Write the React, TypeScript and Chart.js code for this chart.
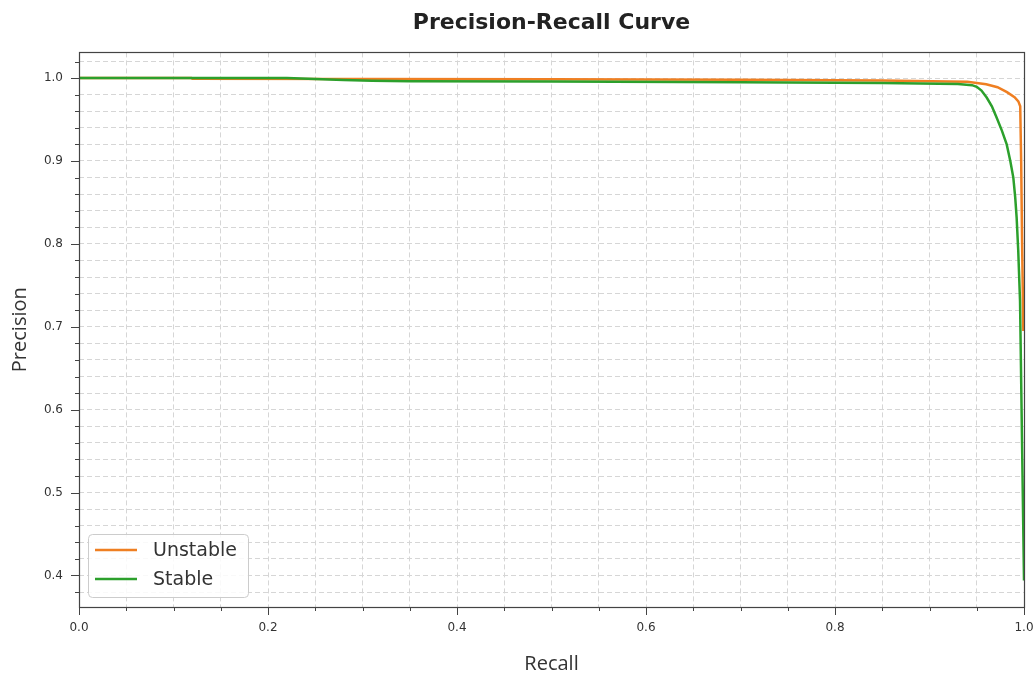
import { useEffect, useRef } from "react";
import { Chart, registerables } from "chart.js";

Chart.register(...registerables);

// ---- Data ----
const seriesLabels = ["Unstable", "Stable"];
const seriesColors = ["#ef7f22", "#2ca02c"];

const recallUnstable = [
  0, 0.119, 0.12, 0.3, 0.5, 0.7, 0.85, 0.92, 0.94, 0.96, 0.972, 0.982, 0.99,
  0.994, 0.996, 0.997, 0.998, 0.9993,
];
const precisionUnstable = [
  1.0, 1.0, 0.9993, 0.999, 0.9985, 0.998, 0.997, 0.996, 0.9955, 0.9925, 0.989,
  0.983, 0.977, 0.972, 0.966, 0.9, 0.8, 0.695,
];

const recallStable = [
  0, 0.22, 0.25, 0.28, 0.31, 0.35, 0.5, 0.7, 0.85, 0.93, 0.945, 0.95, 0.955,
  0.9605, 0.966, 0.971, 0.9765, 0.9817, 0.9855, 0.9887, 0.9907, 0.9922, 0.9939,
  0.9958, 0.998, 1.0,
];
const precisionStable = [
  1.0, 1.0, 0.9988, 0.9978, 0.9968, 0.9962, 0.9958, 0.995, 0.994, 0.993,
  0.9915, 0.9895, 0.985, 0.9766, 0.966, 0.9525, 0.937, 0.92, 0.9, 0.88, 0.856,
  0.832, 0.792, 0.731, 0.555, 0.394,
];

const xMajorTicks = [0, 0.2, 0.4, 0.6, 0.8, 1.0];
const yMajorTicks = [0.4, 0.5, 0.6, 0.7, 0.8, 0.9, 1.0];

const isMajor = (v: number, majors: number[]) =>
  majors.some((m) => Math.abs(m - v) < 1e-6);

const frameTicksPlugin = {
  id: "frameTicks",
  afterDatasetsDraw(chart: any) {
    const { ctx, chartArea: a, scales } = chart;
    const xs = scales.x;
    const ys = scales.y;
    ctx.save();
    ctx.strokeStyle = "#444";
    ctx.lineWidth = 1;
    ctx.beginPath();
    xs.ticks.forEach((t: any) => {
      const px = Math.round(xs.getPixelForValue(t.value)) + 0.5;
      const len = isMajor(t.value, xMajorTicks) ? 8 : 4;
      ctx.moveTo(px, a.bottom);
      ctx.lineTo(px, a.bottom + len);
    });
    ys.ticks.forEach((t: any) => {
      const py = Math.round(ys.getPixelForValue(t.value)) + 0.5;
      if (py < a.top || py > a.bottom) return;
      const len = isMajor(t.value, yMajorTicks) ? 8 : 4;
      ctx.moveTo(a.left, py);
      ctx.lineTo(a.left - len, py);
    });
    ctx.stroke();
    ctx.lineWidth = 1.2;
    ctx.strokeRect(
      Math.round(a.left) + 0.5,
      Math.round(a.top) + 0.5,
      Math.round(a.right - a.left),
      Math.round(a.bottom - a.top)
    );
    ctx.restore();
  },
};

const legendPlugin = {
  id: "boxLegend",
  afterDraw(chart: any) {
    const { ctx, chartArea: a } = chart;
    const w = 160;
    const h = 63;
    const x = Math.round(a.left) + 9;
    const y = Math.round(a.bottom) - 10 - h;
    ctx.save();
    ctx.beginPath();
    ctx.roundRect(x + 0.5, y + 0.5, w, h, 4);
    ctx.fillStyle = "rgba(255,255,255,0.85)";
    ctx.fill();
    ctx.strokeStyle = "#cccccc";
    ctx.lineWidth = 1;
    ctx.stroke();
    ctx.font = '19px "DejaVu Sans"';
    ctx.textBaseline = "middle";
    ctx.textAlign = "left";
    chart.data.datasets.forEach((ds: any, i: number) => {
      const cy = y + 16 + i * 29;
      ctx.strokeStyle = ds.borderColor;
      ctx.lineWidth = 2.5;
      ctx.beginPath();
      ctx.moveTo(x + 7, cy);
      ctx.lineTo(x + 49, cy);
      ctx.stroke();
      ctx.fillStyle = "#333";
      ctx.fillText(ds.label, x + 65, cy + 1);
    });
    ctx.restore();
  },
};

export default function App() {
  const canvasRef = useRef<HTMLCanvasElement | null>(null);

  useEffect(() => {
    if (!canvasRef.current) return;
    const toPoints = (xs: number[], ys: number[]) =>
      xs.map((x, i) => ({ x, y: ys[i] }));

    const chart = new Chart(canvasRef.current, {
      type: "line",
      data: {
        datasets: [
          {
            label: seriesLabels[0],
            data: toPoints(recallUnstable, precisionUnstable),
            borderColor: seriesColors[0],
            backgroundColor: seriesColors[0],
            borderWidth: 2.5,
            pointRadius: 0,
            tension: 0,
            fill: false,
            order: 1,
          },
          {
            label: seriesLabels[1],
            data: toPoints(recallStable, precisionStable),
            borderColor: seriesColors[1],
            backgroundColor: seriesColors[1],
            borderWidth: 2.5,
            pointRadius: 0,
            tension: 0,
            fill: false,
            order: 0,
          },
        ],
      },
      options: {
        responsive: false,
        animation: false,
        events: [],
        layout: { padding: { left: 0, right: 11, top: 0, bottom: 0 } },
        plugins: {
          legend: { display: false },
          tooltip: { enabled: false },
          title: {
            display: true,
            fullSize: false,
            text: "Precision-Recall Curve",
            color: "#222",
            font: { family: "DejaVu Sans", size: 22, weight: "bold" },
            padding: { top: 10, bottom: 16 },
          },
        },
        scales: {
          x: {
            type: "linear",
            position: "bottom",
            min: 0,
            max: 1,
            ticks: {
              stepSize: 0.05,
              autoSkip: false,
              maxRotation: 0,
              includeBounds: false,
              padding: 14,
              color: "#333",
              font: { family: "DejaVu Sans", size: 12 },
              callback: (v: any) =>
                isMajor(Number(v), xMajorTicks) ? Number(v).toFixed(1) : "",
            },
            grid: {
              color: "#d6d6d6",
              lineWidth: 1,
              drawTicks: false,
            },
            border: { display: false, dash: [5, 3] },
            title: {
              display: true,
              text: "Recall",
              color: "#333",
              font: { family: "Open Sans", size: 20 },
              padding: { top: 0, bottom: 4 },
            },
            afterFit: (s: any) => {
              s.height = 73;
              s.paddingLeft = 0;
              s.paddingRight = 0;
            },
          },
          y: {
            type: "linear",
            min: 0.362,
            max: 1.031,
            ticks: {
              stepSize: 0.02,
              autoSkip: false,
              includeBounds: false,
              padding: 16,
              color: "#333",
              font: { family: "DejaVu Sans", size: 12 },
              callback: (v: any) =>
                isMajor(Number(v), yMajorTicks) ? Number(v).toFixed(1) : "",
            },
            grid: {
              color: "#d6d6d6",
              lineWidth: 1,
              drawTicks: false,
            },
            border: { display: false, dash: [5, 3] },
            title: {
              display: true,
              text: "Precision",
              color: "#333",
              font: { family: "Open Sans", size: 20 },
              padding: { top: 8, bottom: 0 },
            },
            afterFit: (s: any) => {
              s.width = 79;
              s.paddingTop = 0;
              s.paddingBottom = 0;
            },
          },
        },
      },
      plugins: [frameTicksPlugin, legendPlugin],
    } as any);

    return () => chart.destroy();
  }, []);

  return (
    <div
      style={{
        position: "fixed",
        left: 0,
        top: 0,
        width: 1035,
        height: 680,
        background: "#fff",
      }}
    >
      <canvas ref={canvasRef} width={1035} height={680} />
    </div>
  );
}
